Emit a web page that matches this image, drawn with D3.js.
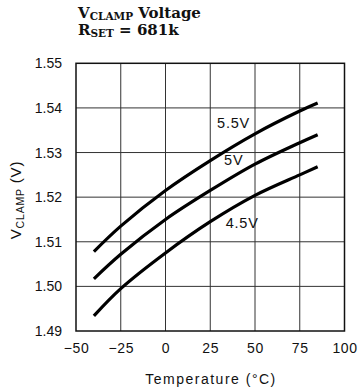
<!DOCTYPE html>
<html><head><meta charset="utf-8">
<script src="https://cdn.jsdelivr.net/npm/d3@7"></script>
<style>
html,body{margin:0;padding:0;background:#fff;}
svg{display:block;}
</style></head>
<body>
<script>
const temps = [-40, -25, 0, 25, 50, 75, 85];
const seriesNames = ["5.5V", "5V", "4.5V"];
const v55 = [1.5078, 1.5135, 1.5215, 1.5282, 1.5342, 1.5393, 1.5411];
const v50 = [1.5017, 1.5072, 1.5150, 1.5215, 1.5274, 1.5322, 1.5340];
const v45 = [1.4934, 1.4995, 1.5075, 1.5145, 1.5204, 1.5250, 1.5268];
const xTicks = [-50, -25, 0, 25, 50, 75, 100];
const yTicks = [1.49, 1.50, 1.51, 1.52, 1.53, 1.54, 1.55];
const labelPos = [[28.8, 1.5355], [32.7, 1.5272], [33.6, 1.5130]];

const W = 359, H = 388;
const SANS = "Liberation Sans, Arial, sans-serif";
const svg = d3.select("body").append("svg").attr("width", W).attr("height", H);
const x = d3.scaleLinear().domain([-50, 100]).range([76, 344.5]);
const y = d3.scaleLinear().domain([1.49, 1.55]).range([331, 63.3]);

// grid
svg.append("g").selectAll("line").data(xTicks.slice(1, -1)).join("line")
  .attr("x1", d => x(d)).attr("x2", d => x(d)).attr("y1", y(1.49)).attr("y2", y(1.55))
  .attr("stroke", "#333").attr("stroke-width", 1);
svg.append("g").selectAll("line").data(yTicks.slice(1, -1)).join("line")
  .attr("y1", d => y(d)).attr("y2", d => y(d)).attr("x1", x(-50)).attr("x2", x(100))
  .attr("stroke", "#333").attr("stroke-width", 1);
// frame
svg.append("rect").attr("x", x(-50)).attr("y", y(1.55))
  .attr("width", x(100) - x(-50)).attr("height", y(1.49) - y(1.55))
  .attr("fill", "none").attr("stroke", "#111").attr("stroke-width", 1.5);

// axes tick labels
const xAxis = d3.axisBottom(x).tickValues(xTicks).tickSize(0).tickPadding(12)
  .tickFormat(d => d < 0 ? "\u2212" + Math.abs(d) : d);
svg.append("g").attr("transform", `translate(0,${y(1.49)})`).call(xAxis)
  .call(g => g.select(".domain").remove())
  .selectAll("text").attr("font-family", SANS)
  .attr("font-size", 14).attr("letter-spacing", 0.6).attr("fill", "#111");
const yAxis = d3.axisLeft(y).tickValues(yTicks).tickSize(0).tickPadding(14)
  .tickFormat(d3.format(".2f"));
svg.append("g").attr("transform", `translate(${x(-50)},0)`).call(yAxis)
  .call(g => g.select(".domain").remove())
  .selectAll("text").attr("font-family", SANS)
  .attr("font-size", 14).attr("fill", "#111");

// curves
const line = d3.line().x((d, i) => x(temps[i])).y(d => y(d)).curve(d3.curveCatmullRom.alpha(0.5));
[v55, v50, v45].forEach(s => {
  svg.append("path").datum(s).attr("d", line).attr("fill", "none")
    .attr("stroke", "#000").attr("stroke-width", 3.2).attr("stroke-linecap", "butt");
});
// series labels
seriesNames.forEach((n, i) => {
  svg.append("text").attr("x", x(labelPos[i][0])).attr("y", y(labelPos[i][1]))
    .attr("font-family", SANS).attr("font-size", 14.5).attr("letter-spacing", 0.8)
    .attr("fill", "#111").text(n);
});

// axis titles
svg.append("text").attr("x", 211).attr("y", 384).attr("text-anchor", "middle")
  .attr("font-family", SANS).attr("font-size", 14).attr("letter-spacing", 1.5)
  .attr("fill", "#111").text("Temperature (\u00B0C)");
const yt = svg.append("text").attr("transform", "translate(21,200) rotate(-90)")
  .attr("text-anchor", "middle")
  .attr("font-family", SANS).attr("font-size", 15).attr("letter-spacing", 0.8).attr("fill", "#111");
yt.append("tspan").text("V");
yt.append("tspan").attr("font-size", 10.5).attr("dy", 3).text("CLAMP");
yt.append("tspan").attr("dy", -3).text(" (V)");

// title
const t1 = svg.append("text").attr("x", 78).attr("y", 18)
  .attr("font-family", "DejaVu Serif, serif").attr("font-weight", "bold").attr("font-size", 15).attr("fill", "#111");
t1.append("tspan").text("V");
t1.append("tspan").attr("font-size", 10.5).attr("dy", 1.5).text("CLAMP");
t1.append("tspan").attr("dy", -1.5).text(" Voltage");
const t2 = svg.append("text").attr("x", 78).attr("y", 35)
  .attr("font-family", "DejaVu Serif, serif").attr("font-weight", "bold").attr("font-size", 15).attr("fill", "#111");
t2.append("tspan").text("R");
t2.append("tspan").attr("font-size", 10.5).attr("dy", 1.5).text("SET");
t2.append("tspan").attr("dy", -1.5).text(" = 681k");
</script>
</body></html>
